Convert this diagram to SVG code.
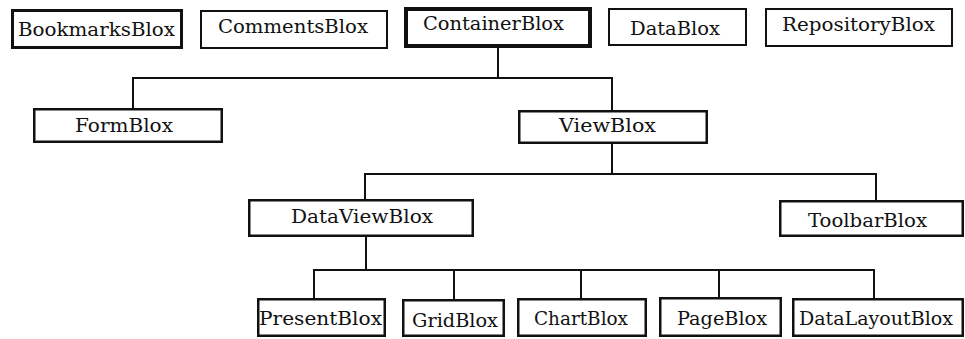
<svg xmlns="http://www.w3.org/2000/svg" width="965" height="339" viewBox="0 0 965 339">
  <style>
    .box { fill: #fff; stroke: #111; stroke-width: 2.5; }
    .thin { stroke-width: 2; }
    .mid { stroke-width: 3; }
    .heavy { stroke-width: 4; }
    .lbl { font-family: 'DejaVu Serif', 'Liberation Serif', serif; font-size: 19px; fill: #111; }
    .wire { fill: none; stroke: #111; stroke-width: 2; stroke-linecap: square; }
  </style>

  <!-- hierarchy connectors -->
  <g id="connectors">
    <path class="wire" d="M498 48 V78 M133 78 H612 M133 78 V108 M612 78 V110"/>
    <path class="wire" d="M612 144 V174 M365 174 H876 M365 174 V199 M876 174 V200"/>
    <path class="wire" d="M366 237 V270 M314 270 H874 M314 270 V298 M454 270 V299 M581 270 V298 M719 270 V297 M874 270 V298"/>
  </g>

  <!-- top row -->
  <g id="BookmarksBlox">
    <rect class="box mid" x="12.5" y="10.5" width="169" height="37"/>
    <text class="lbl" x="18" y="36" textLength="157" lengthAdjust="spacingAndGlyphs">BookmarksBlox</text>
  </g>
  <g id="CommentsBlox">
    <rect class="box thin" x="201" y="11" width="186" height="37"/>
    <text class="lbl" x="218" y="33" textLength="150" lengthAdjust="spacingAndGlyphs">CommentsBlox</text>
  </g>
  <g id="ContainerBlox">
    <rect class="box heavy" x="406" y="9" width="184" height="37"/>
    <text class="lbl" x="423" y="30" textLength="141" lengthAdjust="spacingAndGlyphs">ContainerBlox</text>
  </g>
  <g id="DataBlox">
    <rect class="box thin" x="609" y="9" width="137" height="36"/>
    <text class="lbl" x="630" y="35" textLength="90" lengthAdjust="spacingAndGlyphs">DataBlox</text>
  </g>
  <g id="RepositoryBlox">
    <rect class="box thin" x="766" y="9" width="186" height="37"/>
    <text class="lbl" x="782" y="31" textLength="153" lengthAdjust="spacingAndGlyphs">RepositoryBlox</text>
  </g>

  <!-- second row -->
  <g id="FormBlox">
    <rect class="box" x="34.25" y="109.25" width="187.5" height="32.5"/>
    <text class="lbl" x="75" y="132" textLength="98" lengthAdjust="spacingAndGlyphs">FormBlox</text>
  </g>
  <g id="ViewBlox">
    <rect class="box" x="519.25" y="111.25" width="187.5" height="31.5"/>
    <text class="lbl" x="559" y="132" textLength="97" lengthAdjust="spacingAndGlyphs">ViewBlox</text>
  </g>

  <!-- third row -->
  <g id="DataViewBlox">
    <rect class="box" x="249.25" y="200.25" width="223.5" height="35.5"/>
    <text class="lbl" x="291" y="223" textLength="142" lengthAdjust="spacingAndGlyphs">DataViewBlox</text>
  </g>
  <g id="ToolbarBlox">
    <rect class="box" x="780.25" y="201.25" width="182.5" height="34.5"/>
    <text class="lbl" x="808" y="227" textLength="119" lengthAdjust="spacingAndGlyphs">ToolbarBlox</text>
  </g>

  <!-- bottom row -->
  <g id="PresentBlox">
    <rect class="box" x="258.25" y="299.25" width="126.5" height="36.5"/>
    <text class="lbl" x="259" y="325" textLength="123" lengthAdjust="spacingAndGlyphs">PresentBlox</text>
  </g>
  <g id="GridBlox">
    <rect class="box" x="403.25" y="300.25" width="100.5" height="35.5"/>
    <text class="lbl" x="412" y="327" textLength="86" lengthAdjust="spacingAndGlyphs">GridBlox</text>
  </g>
  <g id="ChartBlox">
    <rect class="box" x="518.25" y="299.25" width="127.5" height="36.5"/>
    <text class="lbl" x="534" y="325" textLength="94" lengthAdjust="spacingAndGlyphs">ChartBlox</text>
  </g>
  <g id="PageBlox">
    <rect class="box" x="660.25" y="298.25" width="120.5" height="37.5"/>
    <text class="lbl" x="677" y="325" textLength="90" lengthAdjust="spacingAndGlyphs">PageBlox</text>
  </g>
  <g id="DataLayoutBlox">
    <rect class="box" x="793.25" y="299.25" width="169.5" height="36.5"/>
    <text class="lbl" x="799" y="325" textLength="154" lengthAdjust="spacingAndGlyphs">DataLayoutBlox</text>
  </g>
</svg>
